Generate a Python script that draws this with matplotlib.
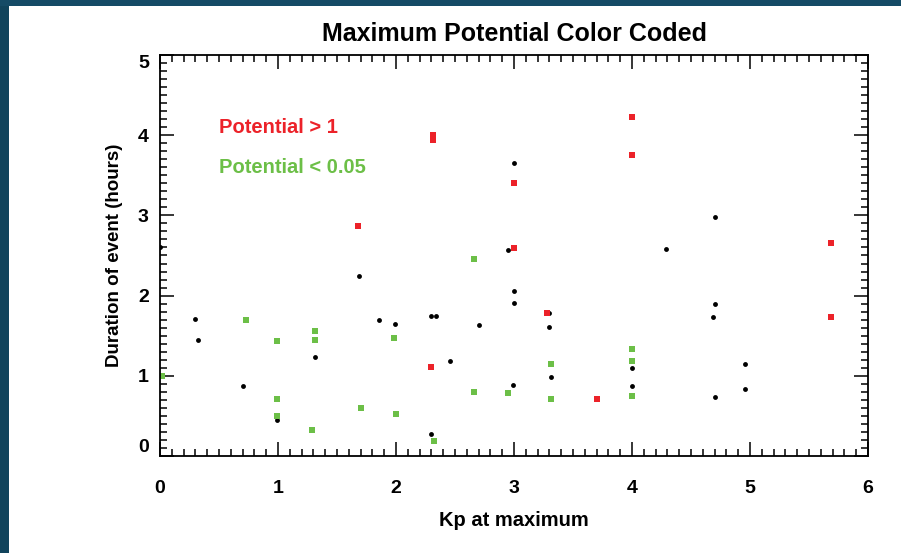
import matplotlib.pyplot as plt
from matplotlib.patches import Rectangle
from matplotlib.ticker import MultipleLocator

# Kp at maximum vs. event duration, split by maximum potential
black_kp = [0.0, 0.30, 0.32, 0.70, 0.99, 1.31, 1.69, 1.86, 1.99, 2.30, 2.34, 2.30,
            2.46, 2.70, 2.95, 3.0, 3.0, 3.0, 2.99, 3.30, 3.30, 3.31, 4.0, 4.0,
            4.29, 4.70, 4.70, 4.69, 4.70, 4.96, 4.96]
black_dur = [2.60, 1.71, 1.45, 0.87, 0.45, 1.23, 2.24, 1.70, 1.65, 1.74, 1.74, 0.28,
             1.19, 1.63, 2.57, 3.65, 2.06, 1.91, 0.89, 1.78, 1.61, 0.98, 1.10, 0.87,
             2.58, 2.98, 1.89, 1.73, 0.73, 1.15, 0.84]

red_kp = [1.68, 2.31, 2.31, 2.30, 3.0, 3.0, 3.28, 3.70, 4.0, 4.0, 5.69, 5.69]
red_dur = [2.87, 4.00, 3.94, 1.11, 3.40, 2.59, 1.78, 0.71, 4.23, 3.75, 2.66, 1.73]

green_kp = [0.02, 0.73, 0.99, 0.99, 0.99, 1.31, 1.31, 1.29, 1.70, 1.98, 2.0, 2.32,
            2.66, 2.66, 2.95, 3.31, 3.31, 4.0, 4.0, 4.0]
green_dur = [1.0, 1.69, 1.43, 0.71, 0.50, 1.56, 1.45, 0.32, 0.60, 1.47, 0.52, 0.19,
             2.46, 0.80, 0.78, 1.15, 0.71, 1.34, 1.19, 0.75]

x_ticks = [0, 1, 2, 3, 4, 5, 6]
y_ticks = [0, 1, 2, 3, 4, 5]

RED = '#ec2229'
GREEN = '#6cbf47'
SANS = ['Liberation Sans', 'DejaVu Sans']

fig = plt.figure(figsize=(9.01, 5.53), dpi=100)
fig.patch.set_facecolor('white')
# dark slide edge on the left and along the top
fig.patches.append(Rectangle((0, 0), 9 / 901, 1, transform=fig.transFigure,
                             facecolor='#11445c', edgecolor='none', zorder=0))
fig.patches.append(Rectangle((0, 1 - 6 / 553), 1, 6 / 553, transform=fig.transFigure,
                             facecolor='#154b66', edgecolor='none', zorder=0))

ax = fig.add_axes([160 / 901, 1 - 456 / 553, 708 / 901, 401 / 553])

ax.plot(black_kp, black_dur, 'o', color='black', markersize=3.5, markeredgewidth=0)
ax.plot(red_kp, red_dur, 's', color=RED, markersize=4.8, markeredgewidth=0)
ax.plot(green_kp, green_dur, 's', color=GREEN, markersize=4.8, markeredgewidth=0)

ax.set_xlim(0, 6)
ax.set_ylim(0, 5)
ax.set_xticks(x_ticks)
ax.set_yticks(y_ticks)
ax.xaxis.set_minor_locator(MultipleLocator(0.1))
ax.yaxis.set_minor_locator(MultipleLocator(0.1))
ax.tick_params(which='both', direction='in', top=True, right=True, width=1.1, color='black')
ax.tick_params(which='major', length=10)
ax.tick_params(which='minor', length=5)
ax.tick_params(axis='x', which='major', pad=17)
ax.tick_params(axis='y', which='major', pad=8)
for s in ax.spines.values():
    s.set_linewidth(1.3)

for lab in ax.get_xticklabels() + ax.get_yticklabels():
    lab.set_family(SANS)
    lab.set_fontweight('bold')
    lab.set_fontsize(14)
ylabs = ax.get_yticklabels()
ylabs[0].set_va('bottom')
ylabs[-1].set_va('top')

ax.set_title('Maximum Potential Color Coded', family=SANS, fontweight='bold',
             fontsize=18, pad=10)
ax.set_xlabel('Kp at maximum', family=SANS, fontweight='bold', fontsize=14.5, labelpad=10)
ax.set_ylabel('Duration of event (hours)', family=SANS,
              fontweight='bold', fontsize=13.5, labelpad=11)

ax.text(0.5, 4.1, 'Potential > 1', color=RED, family=SANS,
        fontweight='bold', fontsize=14.5, va='center', ha='left')
ax.text(0.5, 3.6, 'Potential < 0.05', color=GREEN, family=SANS,
        fontweight='bold', fontsize=14.5, va='center', ha='left')

fig.savefig('out.png', dpi=100)
